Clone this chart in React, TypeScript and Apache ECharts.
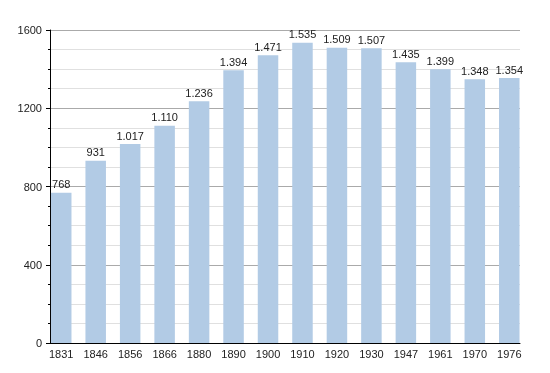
import React, { useEffect, useRef } from "react";
import * as echarts from "echarts";

const years = ["1831", "1846", "1856", "1866", "1880", "1890", "1900", "1910", "1920", "1930", "1947", "1961", "1970", "1976"];
const population = [768, 931, 1017, 1110, 1236, 1394, 1471, 1535, 1509, 1507, 1435, 1399, 1348, 1354];
const yTicks = [0, 400, 800, 1200, 1600];

const fmt = (v: number) => {
  const s = String(v);
  return s.length > 3 ? s.slice(0, s.length - 3) + "." + s.slice(-3) : s;
};

export default function App() {
  const ref = useRef<HTMLDivElement>(null);
  useEffect(() => {
    if (!ref.current) return;
    const chart = echarts.init(ref.current, undefined, { renderer: "svg" });
    const yMax = yTicks[yTicks.length - 1];
    chart.setOption({
      animation: false,
      textStyle: { fontFamily: "Liberation Sans, Arial, sans-serif" },
      grid: [
        { left: 50, right: 30, top: 30, bottom: 30, containLabel: false },
        { left: 44, right: 23.5, top: 30, bottom: 30, containLabel: false },
      ],
      xAxis: [
        {
          gridIndex: 0,
          type: "value",
          min: 0,
          max: 1,
          axisLine: { show: true, lineStyle: { color: "#000", width: 1 } },
          axisTick: { show: false },
          axisLabel: { show: false },
          splitLine: { show: false },
        },
        {
          gridIndex: 1,
          type: "category",
          data: years,
          axisLine: { show: false },
          axisTick: { show: false },
          axisLabel: { color: "#222", fontSize: 11, margin: 5 },
        },
      ],
      yAxis: [
        {
          gridIndex: 0,
          type: "value",
          min: 0,
          max: yMax,
          interval: 400,
          axisLine: { show: true, lineStyle: { color: "#000", width: 1 } },
          axisTick: { show: true, length: 4, lineStyle: { color: "#000" } },
          minorTick: { show: true, splitNumber: 4, length: 2, lineStyle: { color: "#000" } },
          axisLabel: { color: "#222", fontSize: 11, margin: 8, formatter: (v: number) => String(v) },
          splitLine: { show: true, lineStyle: { color: "#aaa", width: 1 } },
          minorSplitLine: { show: true, lineStyle: { color: "#e0e0e0", width: 1 } },
        },
        {
          gridIndex: 1,
          type: "value",
          min: 0,
          max: yMax,
          show: false,
          splitLine: { show: false },
        },
      ],
      series: [
        {
          type: "bar",
          xAxisIndex: 1,
          yAxisIndex: 1,
          data: population,
          barWidth: 20.5,
          itemStyle: { color: "#b2cbe5" },
          label: {
            show: true,
            position: "top",
            distance: 3,
            color: "#222",
            fontSize: 11,
            formatter: (p: any) => fmt(p.value),
          },
        },
      ],
    });
    return () => chart.dispose();
  }, []);
  return <div ref={ref} style={{ position: "fixed", left: 0, top: 0, width: 550, height: 373 }} />;
}
